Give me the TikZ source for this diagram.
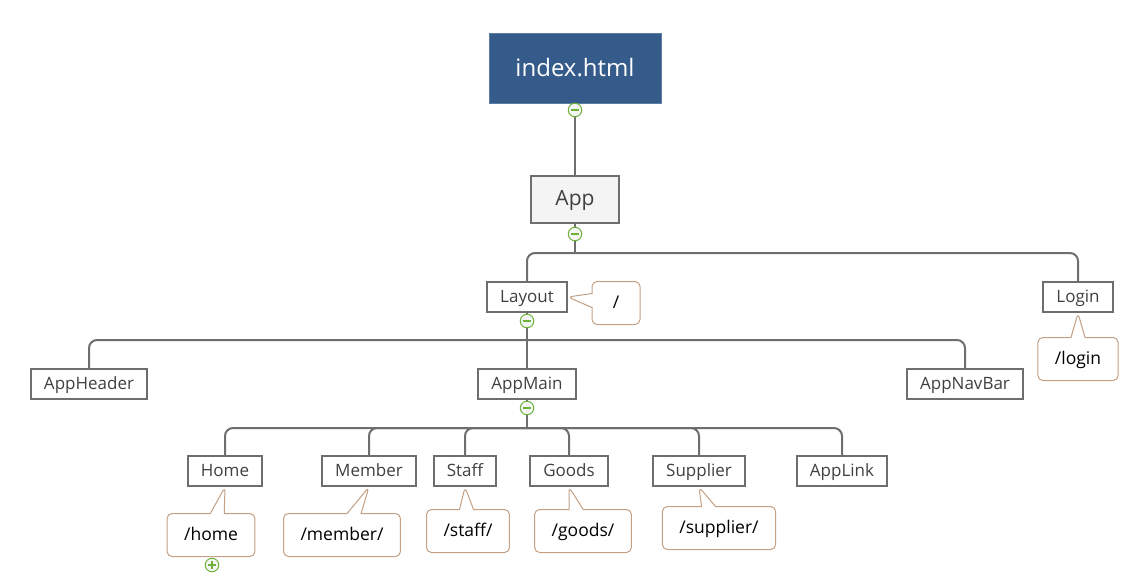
\documentclass[tikz,border=0pt]{standalone}
\usepackage{fontspec}
\setmainfont{Open Sans}
\usetikzlibrary{shapes.callouts,positioning}
\definecolor{clrIdx}{RGB}{53,91,138}
\definecolor{clrLine}{RGB}{110,110,110}
\definecolor{clrText}{RGB}{64,64,64}
\definecolor{clrRoute}{RGB}{196,160,132}
\definecolor{clrTgl}{RGB}{108,178,56}
\definecolor{bgApp}{RGB}{244,244,244}

\begin{document}
\begin{tikzpicture}[x=1pt,y=-1pt,every node/.style={inner sep=0pt}]
  \tikzset{
    page/.style={rectangle,fill=clrIdx,draw=clrIdx!80!white,text=white,
      minimum width=172pt,minimum height=70pt,
      font=\fontsize{24}{28}\selectfont},
    root/.style={rectangle,fill=bgApp,draw=clrLine,line width=2pt,
      text=clrText,minimum width=88pt,minimum height=47pt,
      text height=15pt,text depth=3pt,
      font=\fontsize{21}{25}\selectfont},
    comp/.style={rectangle,fill=white,draw=clrLine,line width=2pt,
      text=clrText,inner xsep=13pt,minimum height=30pt,
      text height=14pt,text depth=3pt,
      font=\fontsize{17}{20}\selectfont},
    route/.style={rectangle callout,rounded corners=5pt,draw=clrRoute,
      line width=1pt,fill=white,inner xsep=17pt,minimum height=43pt,
      minimum width=48pt,callout pointer width=14pt,
      text height=14pt,text depth=3pt,
      font=\fontsize{17.5}{20}\selectfont},
    branch/.style={draw=clrLine,line width=2pt,rounded corners=8pt},
    toggle/.style={circle,draw=clrTgl,fill=gray!7,line width=1pt,
      minimum size=13.5pt},
    collapse/.style={toggle,path picture={
      \draw[clrTgl,line width=1.2pt]
        ([xshift=-3.8pt]path picture bounding box.center) --
        ([xshift=3.8pt]path picture bounding box.center);}},
    expand/.style={toggle,path picture={
      \draw[clrTgl,line width=1.2pt]
        ([xshift=-3.8pt]path picture bounding box.center) --
        ([xshift=3.8pt]path picture bounding box.center)
        ([yshift=-3.8pt]path picture bounding box.center) --
        ([yshift=3.8pt]path picture bounding box.center);}}
  }
  \useasboundingbox (0,0) rectangle (1147,585);

  % top levels
  \node[page] (index) at (575,68) {index.html};
  \node[root] (app) at (575,200) {App};
  \draw[branch] (index.south) -- (app.north);

  \node[comp] (layout) at (527,297) {Layout};
  \node[comp] (login) at (1078,297) {Login};
  \coordinate (appbar) at (575,253);
  \draw[branch] (app.south) -- (appbar);
  \draw[branch] (layout.north) |- (appbar);
  \draw[branch] (login.north) |- (appbar);

  % Layout children
  \node[comp] (appheader) at (89,384) {AppHeader};
  \node[comp] (appmain) at (527,384) {AppMain};
  \node[comp] (appnavbar) at (965,384) {AppNavBar};
  \coordinate (layoutbar) at (527,340);
  \draw[branch] (layout.south) -- (appmain.north);
  \draw[branch] (appheader.north) |- (layoutbar);
  \draw[branch] (appnavbar.north) |- (layoutbar);

  % AppMain children
  \node[comp] (home) at (225,471) {Home};
  \node[comp] (member) at (369,471) {Member};
  \node[comp] (staff) at (465,471) {Staff};
  \node[comp] (goods) at (569,471) {Goods};
  \node[comp] (supplier) at (699,471) {Supplier};
  \node[comp] (applink) at (842,471) {AppLink};
  \coordinate (mainbar) at (527,428);
  \draw[branch] (appmain.south) -- (mainbar);
  \foreach \c in {home,member,staff,goods,supplier,applink}
    \draw[branch] (\c.north) |- (mainbar);

  % routes
  \node[route,callout absolute pointer={(layout.east)}] (r-layout)
    at (616,303) {/};
  \node[route,callout absolute pointer={(login.south)}] (r-login)
    at (1078,359) {/login};
  \node[route,callout absolute pointer={(home.south)}] (r-home)
    at (211,535) {/home};
  \node[route,callout absolute pointer={(member.south)}] (r-member)
    at (342,535) {/member/};
  \node[route,callout absolute pointer={(staff.south)}] (r-staff)
    at (468,531) {/staff/};
  \node[route,callout absolute pointer={(goods.south)}] (r-goods)
    at (583,531) {/goods/};
  \node[route,callout absolute pointer={(supplier.south)}] (r-supplier)
    at (719,528) {/supplier/};

  % toggles
  \node[collapse] (t-index) at (575,110) {};
  \node[collapse] (t-app) at (575,234) {};
  \node[collapse] (t-layout) at (527,321) {};
  \node[collapse] (t-appmain) at (527,408) {};
  \node[expand] (t-home) at (212,565) {};
\end{tikzpicture}
\end{document}
